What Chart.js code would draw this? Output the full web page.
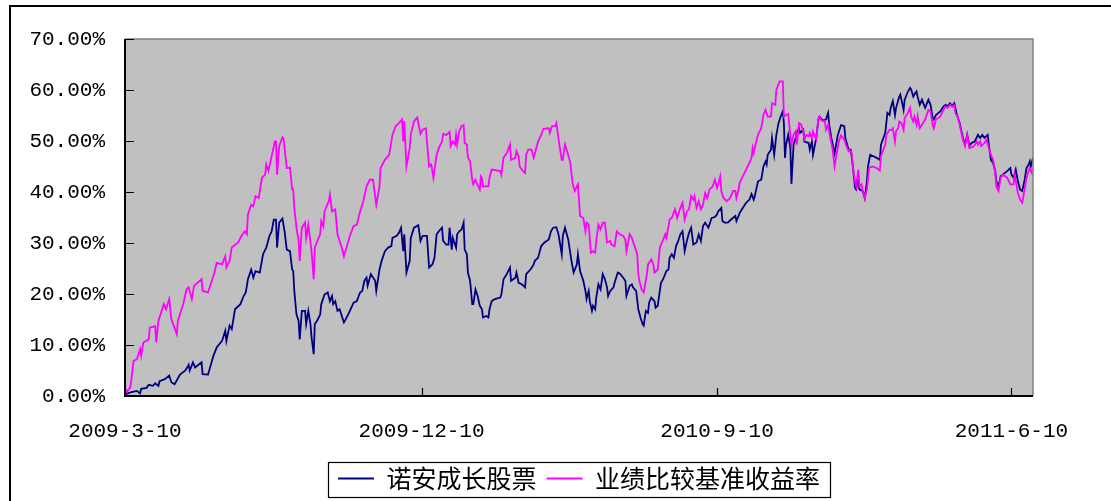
<!DOCTYPE html>
<html>
<head>
<meta charset="utf-8">
<script src="https://cdn.jsdelivr.net/npm/chart.js@4"></script>
<style>
  html, body { margin: 0; padding: 0; background: #fff; }
  #wrap { position: absolute; left: 0; top: 0; width: 1111px; height: 501px; }
</style>
</head>
<body>
<div id="wrap"><canvas id="chart"></canvas></div>
<script>
// 日期轴: 距 2009-3-10 的天数
const tickDays = [0, 275, 549, 822];
const tickLabels = ['2009-3-10', '2009-12-10', '2010-9-10', '2011-6-10'];
const seriesNames = ['诺安成长股票', '业绩比较基准收益率'];

// 诺安成长股票 (%)
const fundDays = [0,5,11,14,15,20,22,26,28,31,32,37,41,43,46,51,56,59,60,63,65,71,72,77,82,85,90,93,94,97,99,102,107,110,112,114,117,119,121,125,128,131,134,136,138,140,141,143,146,148,150,153,155,156,157,159,161,162,164,167,168,170,172,173,175,176,178,181,182,185,188,190,192,193,195,197,199,203,207,212,215,218,220,222,224,225,228,232,233,236,238,241,244,247,248,252,254,256,258,259,261,264,265,268,272,274,276,280,282,285,287,289,291,294,295,298,300,301,303,304,307,308,310,312,314,315,317,318,320,322,323,325,327,329,331,332,335,337,338,340,343,348,349,351,354,357,358,362,363,365,368,371,372,376,379,380,383,386,389,393,395,397,400,402,405,406,408,411,414,416,419,420,422,425,427,428,430,431,433,434,436,437,439,441,443,445,447,448,450,453,454,457,459,462,464,465,468,470,471,474,476,478,480,481,483,485,486,488,491,492,494,497,499,502,504,505,507,509,511,513,515,517,519,521,523,525,527,530,532,534,536,538,541,544,547,549,550,553,554,556,559,562,566,567,569,570,573,576,579,581,583,584,587,590,592,594,595,596,599,600,602,604,606,608,610,611,612,613,615,617,618,620,622,623,625,626,629,630,634,635,637,638,641,643,644,647,650,652,653,655,658,660,661,664,667,668,671,673,675,677,678,680,681,684,686,688,689,691,694,697,700,701,705,707,709,710,712,714,715,718,719,722,723,726,728,729,731,732,734,735,737,739,742,745,747,749,750,752,756,759,761,763,765,767,769,771,774,776,777,779,781,783,785,788,791,793,795,797,800,801,803,805,807,808,810,812,814,818,821,822,824,826,828,830,832,834,836,838,839,840,842];
const fundValues = [0.3,0.7,1.0,0.5,1.4,1.6,2.2,2.0,2.5,2.0,2.9,3.3,4.0,2.7,2.3,4.2,5.0,6.1,5.0,6.6,5.6,6.6,4.3,4.2,7.9,9.5,10.8,12.8,10.8,13.8,13.1,17.0,18.0,19.6,20.3,22.9,24.8,23.2,24.5,24.2,27.8,29.1,31.4,32.3,34.6,34.6,29.1,34.0,34.8,32.3,28.7,28.4,24.8,24.5,20.6,16.0,14.7,11.1,16.7,16.7,14.1,16.7,14.1,11.5,8.2,14.1,14.7,16.0,18.0,19.9,20.3,18.6,19.6,18.0,18.6,16.7,17.0,14.4,16.0,18.3,18.6,20.3,20.6,22.6,23.2,21.6,23.9,22.6,20.6,24.8,26.5,28.4,29.1,29.4,31.0,31.4,32.0,33.0,28.4,31.7,24.2,26.5,31.0,33.0,33.5,30.4,31.4,31.4,25.2,25.8,27.1,31.7,32.3,33.0,30.4,29.7,29.7,33.0,28.7,31.0,29.1,31.7,32.3,32.6,34.0,28.7,27.8,24.2,22.6,18.0,18.0,20.9,19.6,17.7,17.0,15.4,15.7,15.4,17.0,18.6,19.0,19.3,19.9,22.9,23.9,25.2,22.6,23.2,24.2,22.2,21.9,21.3,23.9,24.8,25.8,26.5,27.1,29.4,30.1,30.7,32.3,33.0,33.1,31.7,27.8,31.4,33.0,30.7,26.5,24.2,25.8,27.8,24.5,22.6,20.6,19.0,20.6,18.6,16.7,17.7,17.0,19.3,21.9,20.9,23.9,22.9,21.3,19.6,20.6,21.3,22.2,24.2,24.0,23.2,22.6,19.6,21.6,21.9,21.3,20.6,17.0,15.4,14.1,13.8,16.7,16.3,18.3,19.3,18.6,17.3,17.7,22.2,22.9,24.5,24.8,27.1,27.8,27.1,29.4,30.4,31.7,32.3,28.4,30.4,32.0,33.0,29.7,30.1,31.7,30.4,33.3,34.0,33.0,34.9,35.1,35.6,36.2,36.9,34.3,34.0,34.0,34.6,35.3,34.3,35.3,35.9,36.9,37.9,38.5,39.6,38.5,39.2,42.1,42.4,45.0,46.0,45.4,47.3,48.3,50.6,47.3,51.2,53.5,54.8,55.8,53.5,46.7,49.3,51.2,48.6,41.6,49.3,50.6,51.6,52.5,51.6,52.2,49.9,49.6,48.3,49.9,47.3,50.6,54.2,54.8,54.0,54.2,55.5,53.2,50.6,47.6,49.9,51.2,53.1,52.9,50.6,48.3,48.3,45.0,40.8,40.5,42.8,40.5,40.2,38.8,42.1,45.0,47.3,47.0,46.7,46.3,49.3,51.6,55.5,55.1,56.5,57.8,55.1,56.5,58.7,59.1,56.1,58.1,59.7,60.4,60.1,58.7,59.1,59.7,58.7,57.1,58.1,56.5,58.1,57.1,54.5,54.2,55.1,55.8,56.8,57.1,56.8,57.4,56.8,57.4,55.5,53.5,51.6,50.6,49.3,51.2,49.0,49.6,49.9,51.2,50.6,51.2,50.6,51.2,49.3,46.3,45.7,44.1,42.1,41.1,43.1,43.4,44.1,44.7,43.4,42.8,44.4,42.1,40.5,40.2,42.1,44.7,45.4,46.0,45.0,46.7];

// 业绩比较基准收益率 (%)
const benchDays = [0,1,5,8,11,14,15,17,22,23,28,29,31,36,38,41,43,48,49,54,57,59,62,64,71,72,77,83,85,90,93,94,97,99,105,108,111,113,114,117,119,121,124,127,130,131,133,136,139,140,141,143,146,147,150,153,155,156,157,159,161,162,164,167,168,170,172,173,175,176,179,181,182,184,185,189,190,192,195,197,201,203,209,212,215,218,221,224,227,230,233,236,237,241,245,248,251,254,257,258,259,261,264,265,268,271,274,276,279,282,284,286,289,291,294,295,298,300,301,302,304,306,307,308,310,312,314,315,317,318,320,322,323,325,326,329,330,331,332,337,338,340,348,349,351,354,357,358,362,363,365,366,369,371,372,374,377,379,381,383,386,388,393,394,396,399,400,403,405,406,408,410,413,415,417,420,422,425,427,428,430,432,434,436,437,439,441,443,445,447,450,451,454,456,459,462,464,465,468,470,473,475,476,477,479,481,484,485,488,490,491,494,496,498,501,502,504,505,507,510,512,515,517,519,521,523,525,527,528,530,532,534,536,538,540,542,545,547,549,552,553,555,558,561,564,566,567,569,570,573,576,579,581,582,583,585,587,590,592,594,596,599,600,603,604,607,610,611,613,615,617,618,620,622,623,625,627,629,630,632,634,635,637,638,641,643,644,646,649,650,652,654,656,658,660,662,664,667,669,671,672,674,675,677,678,680,681,683,684,686,688,690,693,697,700,701,705,706,709,711,712,714,715,717,718,720,722,723,726,728,729,731,732,734,735,737,739,742,745,747,749,750,752,756,759,761,763,765,767,769,770,772,774,776,777,779,781,783,787,790,791,793,794,797,799,801,803,805,807,808,810,812,814,818,821,824,825,828,830,832,834,836,838,839,841,842];
const benchValues = [1.7,0.7,1.7,6.9,7.2,9.2,7.9,10.5,11.1,13.4,13.7,10.5,14.7,18.0,17.0,19.0,15.1,12.1,14.7,18.0,20.9,21.3,19.0,21.6,22.9,20.6,20.3,24.2,26.1,25.8,27.4,25.2,26.5,29.1,30.1,31.4,32.3,31.7,35.6,37.5,37.2,39.2,38.8,42.8,43.4,45.4,44.1,47.0,49.9,49.9,43.4,49.0,50.7,50.5,44.7,44.8,40.5,40.5,36.9,33.0,30.4,26.5,33.0,34.0,31.0,33.6,30.1,28.4,22.9,29.1,30.7,31.7,34.3,33.3,36.2,38.2,39.5,36.2,36.6,31.7,29.1,27.4,31.7,33.3,33.6,36.2,38.2,41.1,42.4,42.4,37.5,41.1,44.7,46.3,47.3,51.2,52.9,53.5,54.2,49.9,53.9,45.0,48.6,51.2,53.9,54.6,51.4,52.2,52.5,45.0,45.4,42.8,47.3,48.6,49.9,51.4,51.2,51.6,51.8,49.0,49.9,49.3,51.2,49.3,51.9,52.9,53.1,49.6,49.3,46.7,46.0,42.4,41.5,42.4,41.8,40.5,43.1,42.8,41.1,41.1,42.8,44.4,44.1,43.4,46.7,47.6,49.3,46.3,46.7,48.0,47.0,45.0,44.1,43.7,47.3,48.3,48.3,46.7,48.3,49.9,51.2,52.4,52.5,51.6,52.9,52.9,53.5,49.0,46.3,46.3,49.3,48.0,45.7,41.8,40.2,41.5,35.3,34.9,32.3,34.0,33.6,28.1,28.4,28.1,30.4,33.6,32.7,34.0,34.0,30.1,30.4,29.7,29.4,32.3,31.7,31.4,30.7,28.4,31.7,31.0,29.1,27.8,23.9,22.6,20.9,20.3,23.9,25.8,26.8,25.8,24.2,24.8,29.1,30.1,31.7,31.0,33.3,34.6,34.9,36.6,34.9,36.9,37.9,34.6,36.2,36.6,39.2,38.5,39.2,36.9,38.2,36.6,37.5,39.8,38.8,40.5,41.1,42.4,40.8,43.1,40.2,38.8,38.2,38.8,40.2,40.2,38.8,40.5,41.8,43.1,44.4,45.7,46.7,48.6,47.6,49.6,51.2,52.5,55.1,56.1,54.8,54.8,57.4,57.1,60.0,61.7,61.7,54.8,55.1,55.3,51.2,49.3,51.2,51.9,49.3,53.5,53.2,51.9,50.3,51.2,50.9,51.6,50.6,51.9,50.3,54.5,54.8,54.0,53.9,52.2,53.2,50.6,48.6,45.0,47.6,49.9,51.1,50.3,49.0,48.0,48.3,47.6,44.7,42.1,41.1,44.4,41.1,41.5,40.2,38.8,40.5,44.7,45.0,44.7,44.2,47.0,49.3,51.2,52.2,52.2,52.5,49.9,51.9,52.5,53.8,53.5,52.2,54.5,55.5,56.5,54.8,53.8,54.8,53.2,54.8,52.5,53.2,54.2,56.1,55.8,53.2,52.5,54.2,54.8,56.1,56.8,56.5,57.1,56.8,57.0,55.5,54.8,53.2,51.2,50.3,49.0,51.2,48.6,48.9,49.9,49.3,49.9,49.0,49.6,50.3,48.6,47.3,46.3,43.7,41.1,40.2,42.8,43.4,42.8,41.5,41.5,43.4,39.8,38.5,37.9,40.2,42.8,44.1,44.7,43.7,44.7];

const tickFont = { family: 'Liberation Mono', size: 21 };

// 灰色绘图区, 外框, 向内的刻度线, 图例边框
const framePlugin = {
    id: 'framePlugin',
    beforeDraw(chart) {
        const { ctx, chartArea: a } = chart;
        ctx.save();
        ctx.fillStyle = '#c0c0c0';
        ctx.fillRect(a.left, a.top, a.right - a.left, a.bottom - a.top);
        ctx.strokeStyle = '#000';
        ctx.lineWidth = 2;
        ctx.beginPath();
        ctx.moveTo(10, chart.height);
        ctx.lineTo(10, 6);
        ctx.lineTo(chart.width, 6);
        ctx.stroke();
        ctx.restore();
    },
    afterDatasetsDraw(chart) {
        const { ctx, chartArea: a, scales } = chart;
        ctx.save();
        ctx.strokeStyle = '#808080';
        ctx.lineWidth = 1.5;
        ctx.beginPath();
        ctx.moveTo(a.left, a.top);
        ctx.lineTo(a.right, a.top);
        ctx.lineTo(a.right, a.bottom);
        ctx.stroke();

        ctx.strokeStyle = '#000';
        ctx.lineWidth = 2;
        ctx.beginPath();
        ctx.moveTo(a.left, a.top);
        ctx.lineTo(a.left, a.bottom);
        ctx.lineTo(a.right, a.bottom);
        ctx.stroke();

        ctx.lineWidth = 1.2;
        ctx.beginPath();
        scales.y.ticks.forEach((t, i) => {
            const py = Math.round(scales.y.getPixelForTick(i)) + 0.5;
            ctx.moveTo(a.left, py);
            ctx.lineTo(a.left + 9, py);
        });
        scales.x.ticks.forEach((t, i) => {
            const px = Math.round(scales.x.getPixelForTick(i)) + 0.5;
            ctx.moveTo(px, a.bottom);
            ctx.lineTo(px, a.bottom - 8);
        });
        ctx.stroke();
        ctx.restore();
    },
    afterDraw(chart) {
        const hb = chart.legend && chart.legend.legendHitBoxes;
        if (!hb || !hb.length) return;
        const first = hb[0];
        const last = hb[hb.length - 1];
        const cy = first.top + first.height / 2;
        const ctx = chart.ctx;
        ctx.save();
        ctx.strokeStyle = '#000';
        ctx.lineWidth = 1.2;
        const left = Math.round(first.left - 10) + 0.5;
        const right = Math.round(last.left + last.width + 10) + 0.5;
        ctx.strokeRect(left, Math.round(cy - 17) + 0.5, right - left, 35);
        ctx.restore();
    }
};

new Chart(document.getElementById('chart'), {
    type: 'line',
    data: {
        datasets: [
            {
                label: seriesNames[0],
                data: fundDays.map((d, i) => ({ x: d, y: fundValues[i] })),
                borderColor: '#000080',
                backgroundColor: '#000080',
                borderWidth: 1.8,
                pointRadius: 0,
                tension: 0,
                order: 1
            },
            {
                label: seriesNames[1],
                data: benchDays.map((d, i) => ({ x: d, y: benchValues[i] })),
                borderColor: '#ff00ff',
                backgroundColor: '#ff00ff',
                borderWidth: 1.8,
                pointRadius: 0,
                tension: 0,
                order: 0
            }
        ]
    },
    options: {
        responsive: true,
        maintainAspectRatio: false,
        animation: false,
        layout: { padding: { left: 0, right: 0, top: 39, bottom: 0 } },
        scales: {
            x: {
                type: 'linear',
                min: 0,
                max: 842,
                grid: { display: false, drawTicks: false },
                border: { display: false },
                afterBuildTicks: axis => { axis.ticks = tickDays.map(v => ({ value: v })); },
                afterFit: axis => { axis.height = 60; },
                ticks: {
                    autoSkip: false,
                    maxRotation: 0,
                    padding: 23,
                    color: '#000',
                    font: tickFont,
                    callback: v => tickLabels[tickDays.indexOf(v)]
                }
            },
            y: {
                min: 0,
                max: 70,
                grid: { display: false, drawTicks: false },
                border: { display: false },
                afterFit: axis => { axis.width = 125; },
                ticks: {
                    stepSize: 10,
                    padding: 20,
                    color: '#000',
                    font: tickFont,
                    callback: v => v.toFixed(2) + '%'
                }
            },
            yRight: {
                position: 'right',
                display: true,
                grid: { display: false, drawTicks: false },
                border: { display: false },
                ticks: { display: false },
                afterFit: axis => { axis.width = 78; }
            }
        },
        plugins: {
            legend: {
                display: true,
                position: 'bottom',
                fullSize: false,
                labels: {
                    color: '#000',
                    font: { family: '"Noto Sans CJK SC"', size: 25 },
                    usePointStyle: true,
                    pointStyle: 'line',
                    pointStyleWidth: 36,
                    padding: 10,
                    sort: (a, b) => a.datasetIndex - b.datasetIndex
                }
            },
            tooltip: { enabled: false }
        }
    },
    plugins: [framePlugin]
});
</script>
</body>
</html>
